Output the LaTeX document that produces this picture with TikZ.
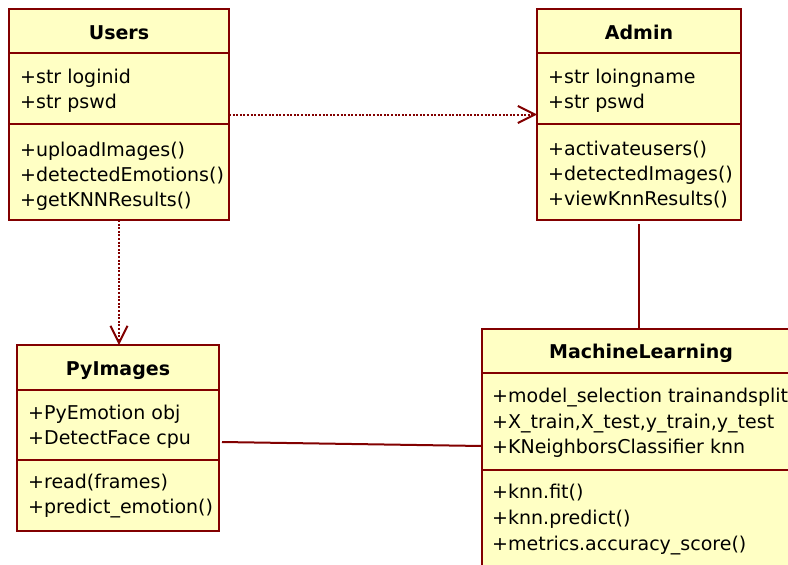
\documentclass[tikz,border=0pt]{standalone}
\usepackage{fontspec}
\setmainfont{DejaVu Sans}
\usetikzlibrary{arrows.meta}
\definecolor{umlline}{RGB}{130,0,0}
\definecolor{umlfill}{RGB}{255,255,196}
\begin{document}
\begin{tikzpicture}[x=1pt,y=-1pt,
  classbox/.style={draw=umlline, fill=umlfill, line width=2pt, rectangle, inner sep=0pt, outer sep=0pt, anchor=north west},
  rule/.style={draw=umlline, line width=2pt},
  title/.style={font=\fontsize{19}{23}\selectfont\bfseries, anchor=base, inner sep=0pt},
  member/.style={font=\fontsize{19}{23}\selectfont, anchor=base west, inner sep=0pt},
  depend/.style={draw=umlline, line width=2pt, dash pattern=on 2pt off 1.6pt,
    -{Straight Barb[length=17pt,width=17pt,line width=2pt]}},
  assoc/.style={draw=umlline, line width=2pt}]
\useasboundingbox (0,0) rectangle (788,565);
\clip (0,0) rectangle (788,565);

% ---- Users ----
\node[classbox, minimum width=220pt, minimum height=211pt] (users) at (9,9) {};
\draw[rule] (9,53) -- (229,53);
\draw[rule] (9,124) -- (229,124);
\node[title] (usersT) at (119,39) {Users};
\node[member] (u1) at (20,83) {+str loginid};
\node[member] (u2) at (20,108) {+str pswd};
\node[member] (u3) at (20,156) {+uploadImages()};
\node[member] (u4) at (20,181) {+detectedEmotions()};
\node[member] (u5) at (20,206) {+getKNNResults()};

% ---- Admin ----
\node[classbox, minimum width=204pt, minimum height=211pt] (admin) at (537,9) {};
\draw[rule] (537,53) -- (741,53);
\draw[rule] (537,124) -- (741,124);
\node[title] (adminT) at (639,39) {Admin};
\node[member] (a1) at (548,83) {+str loingname};
\node[member] (a2) at (548,108) {+str pswd};
\node[member] (a3) at (548,155) {+activateusers()};
\node[member] (a4) at (548,180) {+detectedImages()};
\node[member] (a5) at (548,205) {+viewKnnResults()};

% ---- PyImages ----
\node[classbox, minimum width=202pt, minimum height=186pt] (pyimg) at (17,345) {};
\draw[rule] (17,390) -- (219,390);
\draw[rule] (17,460) -- (219,460);
\node[title] (pyimgT) at (118,375) {PyImages};
\node[member] (p1) at (28,419) {+PyEmotion obj};
\node[member] (p2) at (28,444) {+DetectFace cpu};
\node[member] (p3) at (28,488) {+read(frames)};
\node[member] (p4) at (28,513) {+predict\_emotion()};

% ---- MachineLearning ----
\node[classbox, minimum width=318pt, minimum height=251pt] (ml) at (482,329) {};
\draw[rule] (482,373) -- (800,373);
\draw[rule] (482,470) -- (800,470);
\node[title] (mlT) at (641,358) {MachineLearning};
\node[member] (m1) at (492,402) {+model\_selection trainandsplit};
\node[member] (m2) at (492,428) {+X\_train,X\_test,y\_train,y\_test};
\node[member] (m3) at (492,453) {+KNeighborsClassifier knn};
\node[member] (m4) at (492,498) {+knn.fit()};
\node[member] (m5) at (492,524) {+knn.predict()};
\node[member] (m6) at (492,550) {+metrics.accuracy\_score()};

% ---- relations ----
\draw[depend] (users.east) -- (admin.west);
\draw[depend] ([xshift=110pt]users.south west) -- ([xshift=110pt]users.south west |- pyimg.north);
\draw[assoc] ([yshift=-4pt]admin.south) -- (admin.south |- ml.north);
\draw[assoc] ([shift={(3pt,-4pt)}]pyimg.east) -- ([yshift=8.5pt]ml.west);
\end{tikzpicture}
\end{document}
